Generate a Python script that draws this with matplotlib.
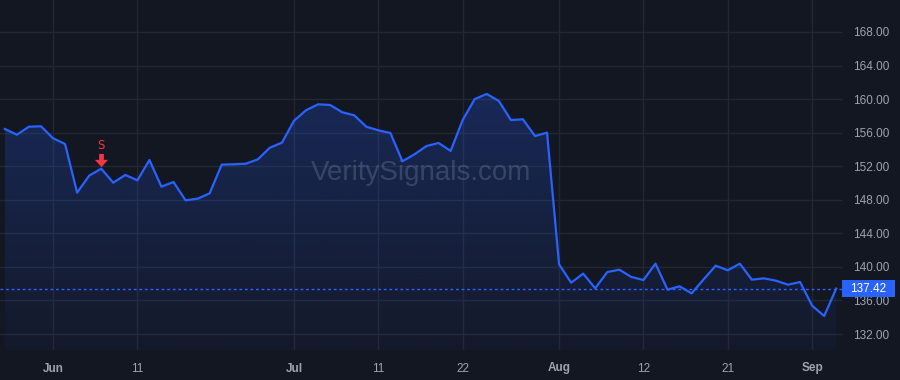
import numpy as np
import matplotlib
matplotlib.use("Agg")
import matplotlib.pyplot as plt
from matplotlib.patches import Rectangle, Polygon
from matplotlib.transforms import blended_transform_factory, ScaledTranslation
from matplotlib.path import Path

# ---- data (one value per trading day, 27 May .. 4 Sep) ----
values = [156.44, 155.76, 156.71, 156.76, 155.33, 154.65, 148.85, 150.87, 151.71, 150.04,
          150.96, 150.32, 152.74, 149.56, 150.12, 147.94, 148.13, 148.77, 152.19, 152.23,
          152.30, 152.82, 154.21, 154.81, 157.42, 158.67, 159.38, 159.30, 158.43, 158.07,
          156.71, 156.28, 155.96, 152.59, 153.42, 154.41, 154.77, 153.82, 157.51, 160.01,
          160.61, 159.78, 157.51, 157.59, 155.60, 156.00, 140.31, 138.12, 139.20, 137.45,
          139.39, 139.67, 138.80, 138.44, 140.39, 137.29, 137.69, 136.85, 138.52, 140.15,
          139.60, 140.39, 138.48, 138.64, 138.36, 137.88, 138.20, 135.38, 134.15, 137.42]
tick_pos = [4, 11, 24, 31, 38, 46, 53, 60, 67]
tick_labels = ["Jun", "11", "Jul", "11", "22", "Aug", "12", "21", "Sep"]
month_labels = {"Jun", "Jul", "Aug", "Sep"}
y_ticks = [132, 136, 140, 144, 148, 152, 156, 160, 164, 168]
signal_idx = [8]
signal_text = ["S"]
watermark = "VeritySignals.com"
last_price = values[-1]

BG = "#131722"
GRID = "#232734"
LINE = "#2962ff"
TXT = "#a0a3ad"

plt.rcParams['font.family'] = ['Liberation Sans', 'DejaVu Sans']

fig = plt.figure(figsize=(9, 3.8), dpi=100, facecolor=BG)
ax = fig.add_axes([0, 30 / 380, 842 / 900, 350 / 380], facecolor=BG)

x = np.arange(len(values))
ymin, ymax = 130.10, 171.81
ax.set_xlim(-0.4, 69.48)
ax.set_ylim(ymin, ymax)

# gradient fill under the line
verts = [(x[0], ymin)] + list(zip(x, values)) + [(x[-1], ymin)]
poly = Polygon(verts, closed=True, facecolor='none', edgecolor='none')
ax.add_patch(poly)
n = 256
grad = np.zeros((n, 1, 4))
top_a, bot_a = 0.24, 0.04
rgb = matplotlib.colors.to_rgb(LINE)
for i in range(n):
    t = i / (n - 1)
    grad[i, 0, :3] = rgb
    grad[i, 0, 3] = top_a + (bot_a - top_a) * t
im = ax.imshow(grad, aspect='auto', extent=[x[0], x[-1], ymin, max(values)],
               origin='upper', zorder=1)
im.set_clip_path(poly)

ax.plot(x, values, color=LINE, lw=1.6, zorder=3, solid_joinstyle='round')

# last price dashed line
ax.axhline(last_price, color=LINE, lw=1, ls=(0, (2, 2)), zorder=2.8)

# grid
ax.set_yticks(y_ticks)
ax.set_yticklabels([f"{v:.2f}" for v in y_ticks])
ax.set_xticks(tick_pos)
ax.set_xticklabels(tick_labels)
ax.grid(True, color=GRID, lw=1)
ax.set_axisbelow(True)
for s in ax.spines.values():
    s.set_visible(False)
ax.yaxis.tick_right()
ax.tick_params(axis='y', length=0, pad=8, labelsize=8.5, labelcolor=TXT)
ax.tick_params(axis='x', length=0, pad=9, labelsize=8.5, labelcolor=TXT)
for lab in ax.get_xticklabels():
    if lab.get_text() in month_labels:
        lab.set_fontweight('bold')

# signal markers
arr_verts = [(-0.18, 0.5), (0.18, 0.5), (0.18, 0.05), (0.5, 0.05), (0.0, -0.5),
             (-0.5, 0.05), (-0.18, 0.05), (-0.18, 0.5)]
arrow = Path(arr_verts, closed=True)
for idx, txt in zip(signal_idx, signal_text):
    tr = ax.transData + ScaledTranslation(0, 6.5 / 72, fig.dpi_scale_trans)
    ax.plot([idx], [values[idx]], marker=arrow, ms=9.5, color="#f23645",
            mec="#f23645", mew=0, transform=tr, zorder=5, clip_on=False)
    tr2 = ax.transData + ScaledTranslation(0, 17 / 72, fig.dpi_scale_trans)
    ax.text(idx, values[idx], txt, color="#f23645", fontsize=8.5, ha='center',
            va='center', transform=tr2, zorder=5, family=['DejaVu Sans'])

# watermark (centred at about pixel (421, 173))
ax.text(421 / 842, (350 - 173) / 350, watermark, transform=ax.transAxes,
        ha='center', va='center', fontsize=20, color='#8a91a8', alpha=0.3, zorder=2)

# last price label box
bt = blended_transform_factory(fig.transFigure, ax.transData)
ax.add_patch(Rectangle((842 / 900, last_price - 1.0), 53 / 900, 2.0, transform=bt,
                       facecolor=LINE, edgecolor='none', clip_on=False, zorder=10))
ax.text(868.5 / 900, last_price, f"{last_price:.2f}", transform=bt, ha='center',
        va='center', color='white', fontsize=8.5, zorder=11, clip_on=False)

fig.savefig("out.png", dpi=100, facecolor=BG)
